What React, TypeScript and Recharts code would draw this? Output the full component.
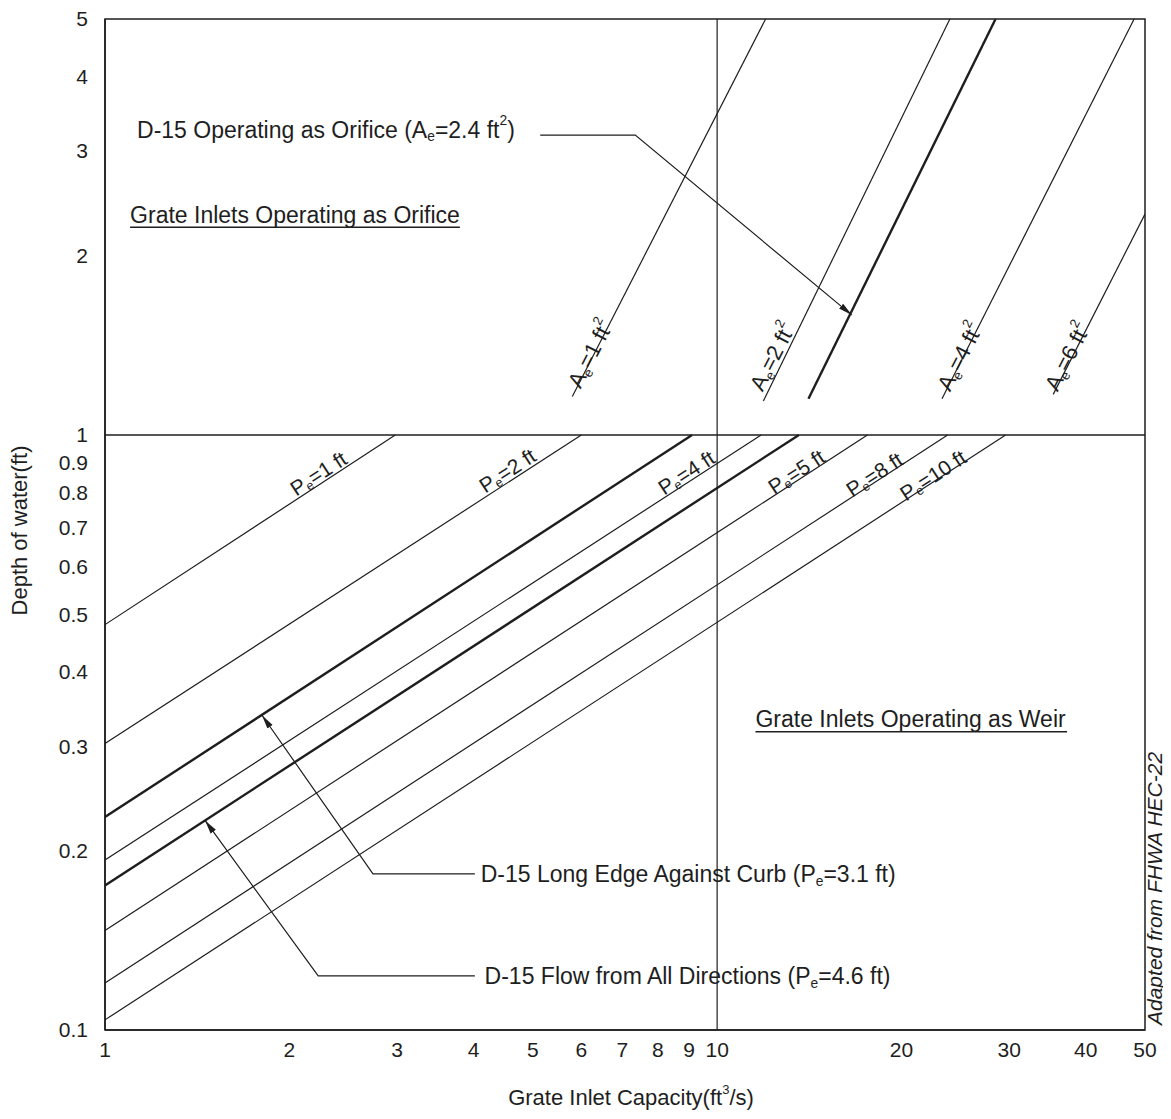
import React from 'react'
import {
  ComposedChart,
  Line,
  XAxis,
  YAxis,
  ReferenceLine,
  ReferenceArea,
  ReferenceDot,
} from 'recharts'

// axis ticks
const xTicks = [1, 2, 3, 4, 5, 6, 7, 8, 9, 10, 20, 30, 40, 50]
const yTicks = [0.1, 0.2, 0.3, 0.4, 0.5, 0.6, 0.7, 0.8, 0.9, 1, 2, 3, 4, 5]

// weir curves (lower half): depth at Q = 1 and capacity where depth reaches 1 ft
const weirPerimeter = ['1', '2', '3.1', '4', '4.6', '5', '8', '10']
const weirDepthAtQ1 = [0.48, 0.303, 0.228, 0.193, 0.175, 0.147, 0.12, 0.104]
const weirQAtDepth1 = [2.98, 6.0, 9.1, 11.8, 13.6, 17.6, 23.8, 29.6]
const weirBold = [false, false, true, false, true, false, false, false]
const weirLabelQ = [2.23, 4.54, 0, 8.9, 0, 13.46, 18.05, 22.5]
const weirLabelDepth = [0.863, 0.873, 0, 0.866, 0, 0.869, 0.86, 0.857]

// orifice curves (upper half)
const orificeArea = ['1', '2', '2.4', '4', '6']
const orificeQLow = [5.8, 11.9, 14.1, 23.3, 35.4]
const orificeDepthLow = [1.16, 1.14, 1.15, 1.15, 1.17]
const orificeQHigh = [12.0, 24.0, 28.5, 48.0, 50]
const orificeDepthHigh = [5, 5, 5, 5, 2.35]
const orificeBold = [false, false, true, false, false]
const orificeLabelQ = [6.2, 12.3, 0, 24.9, 37.3]
const orificeLabelDepth = [1.37, 1.355, 0, 1.355, 1.355]

// leader lines (last point = arrow tip)
const orificeLeaderQ = [5.14, 7.35, 16.6]
const orificeLeaderD = [3.19, 3.19, 1.59]
const curbLeaderQ = [4.02, 2.74, 1.805]
const curbLeaderD = [0.183, 0.183, 0.338]
const allDirLeaderQ = [4.02, 2.23, 1.457]
const allDirLeaderD = [0.1233, 0.1233, 0.225]

// annotation anchors (text start)
const noteQ = [1.128, 1.099, 11.55, 4.11, 4.17]
const noteDepth = [3.26, 2.34, 0.333, 0.183, 0.1233]

// underlines of the two region titles
const underlineQStart = [1.099, 11.55]
const underlineQEnd = [3.8, 37.3]
const underlineDepth = [2.234, 0.317]

const INK = '#1e1e1e'
const FONT = '"Liberation Sans", Arial, Helvetica, sans-serif'

type Seg = [string, 'n' | 'sub' | 'sup']

const noteText: Seg[][] = [
  [['D-15 Operating as Orifice (A', 'n'], ['e', 'sub'], ['=2.4 ft', 'n'], ['2', 'sup'], [')', 'n']],
  [['Grate Inlets Operating as Orifice', 'n']],
  [['Grate Inlets Operating as Weir', 'n']],
  [['D-15 Long Edge Against Curb (P', 'n'], ['e', 'sub'], ['=3.1 ft)', 'n']],
  [['D-15 Flow from All Directions (P', 'n'], ['e', 'sub'], ['=4.6 ft)', 'n']],
]

function spans(segs: Seg[], fs: number) {
  let shift = 0
  return segs.map(([t, k], i) => {
    const target = k === 'sub' ? fs * 0.3 : k === 'sup' ? -fs * 0.4 : 0
    const dy = target - shift
    shift = target
    return (
      <tspan key={i} dy={dy} fontSize={k === 'n' ? fs : fs * 0.6}>
        {t}
      </tspan>
    )
  })
}

function centerOf(props: any) {
  const vb = props.viewBox || {}
  return { cx: (vb.x ?? 0) + (vb.width ?? 0) / 2, cy: (vb.y ?? 0) + (vb.height ?? 0) / 2 }
}

const rotatedLabel = (segs: Seg[], angle: number, fs: number) => (props: any) => {
  const { cx, cy } = centerOf(props)
  return (
    <text
      x={cx}
      y={cy}
      textAnchor="middle"
      dominantBaseline="central"
      fill={INK}
      fontFamily={FONT}
      transform={`rotate(${angle} ${cx} ${cy})`}
    >
      {spans(segs, fs)}
    </text>
  )
}

const noteLabel = (segs: Seg[]) => (props: any) => {
  const { cx, cy } = centerOf(props)
  return (
    <text x={cx} y={cy} dominantBaseline="central" fill={INK} fontFamily={FONT}>
      {spans(segs, 23)}
    </text>
  )
}

const adaptedLabel = (props: any) => {
  const { cx, cy } = centerOf(props)
  const x = cx + 17
  const y = cy - 5
  return (
    <text
      x={x}
      y={y}
      fill={INK}
      fontFamily={FONT}
      fontStyle="italic"
      fontSize={21}
      transform={`rotate(-90 ${x} ${y})`}
    >
      Adapted from FHWA HEC-22
    </text>
  )
}

const pts = (qs: number[], ds: number[]) => qs.map((q, i) => ({ x: q, y: ds[i] }))

export default function App() {
  return (
    <div style={{ width: 1163, height: 1103, overflow: 'hidden', background: '#fff' }}>
      <ComposedChart
        width={1163}
        height={1103}
        margin={{ top: 11, right: 26, bottom: 0, left: 0 }}
      >
        <defs>
          <marker
            id="arrowHead"
            viewBox="0 0 14 8"
            refX="14"
            refY="4"
            markerWidth="14"
            markerHeight="8"
            markerUnits="userSpaceOnUse"
            orient="auto"
          >
            <path d="M0,0.8 L14,4 L0,7.2 z" fill={INK} />
          </marker>
        </defs>
        <XAxis
          dataKey="x"
          type="number"
          scale="log"
          domain={[1, 50]}
          ticks={xTicks}
          interval={0}
          allowDataOverflow
          height={81}
          axisLine={{ stroke: INK, strokeWidth: 1.5 }}
          tickLine={false}
          tickSize={4}
          tickMargin={8}
          tick={{ fontSize: 21, fill: INK, fontFamily: FONT }}
          label={{
            content: (props: any) => {
              const vb = props.viewBox
              const x = vb.x + vb.width / 2 + 6
              const y = vb.y + 67
              return (
                <text x={x} y={y} textAnchor="middle" dominantBaseline="central" fill={INK} fontFamily={FONT} fontSize={22}>
                  <tspan>Grate Inlet Capacity(ft</tspan>
                  <tspan dy={-8} fontSize={13}>3</tspan>
                  <tspan dy={8}>/s)</tspan>
                </text>
              )
            },
          }}
        />
        <YAxis
          type="number"
          scale="log"
          domain={[0.1, 5]}
          ticks={yTicks}
          interval={0}
          allowDataOverflow
          width={97}
          axisLine={{ stroke: INK, strokeWidth: 1.5 }}
          tickLine={false}
          tickSize={6}
          tickMargin={11}
          tick={{ fontSize: 21, fill: INK, fontFamily: FONT }}
          label={{
            content: (props: any) => {
              const vb = props.viewBox
              const x = vb.x + 11
              const y = vb.y + vb.height / 2 + 6
              return (
                <text
                  x={x}
                  y={y}
                  textAnchor="middle"
                  dominantBaseline="central"
                  fill={INK}
                  fontFamily={FONT}
                  fontSize={22}
                  transform={`rotate(-90 ${x} ${y})`}
                >
                  Depth of water(ft)
                </text>
              )
            },
          }}
        />

        <ReferenceArea x1={1} x2={50} y1={0.1} y2={5} fill="none" stroke={INK} strokeWidth={1.5} ifOverflow="visible" />
        <ReferenceLine x={10} stroke={INK} strokeWidth={1.2} ifOverflow="visible" />
        <ReferenceLine y={1} stroke={INK} strokeWidth={1.6} ifOverflow="visible" />

        {underlineQStart.map((q, i) => (
          <ReferenceLine
            key={`ul-${i}`}
            segment={[
              { x: q, y: underlineDepth[i] },
              { x: underlineQEnd[i], y: underlineDepth[i] },
            ]}
            stroke={INK}
            strokeWidth={1.5}
            ifOverflow="visible"
          />
        ))}

        {weirPerimeter.map((p, i) => (
          <Line
            key={`weir-${p}`}
            name={`weir-${p}`}
            data={[
              { x: 1, y: weirDepthAtQ1[i] },
              { x: weirQAtDepth1[i], y: 1 },
            ]}
            dataKey="y"
            type="linear"
            dot={false}
            activeDot={false}
            stroke={INK}
            strokeWidth={weirBold[i] ? 2.4 : 1.2}
            isAnimationActive={false}
          />
        ))}

        {orificeArea.map((a, i) => (
          <Line
            key={`orifice-${a}`}
            name={`orifice-${a}`}
            data={[
              { x: orificeQLow[i], y: orificeDepthLow[i] },
              { x: orificeQHigh[i], y: orificeDepthHigh[i] },
            ]}
            dataKey="y"
            type="linear"
            dot={false}
            activeDot={false}
            stroke={INK}
            strokeWidth={orificeBold[i] ? 2.4 : 1.2}
            isAnimationActive={false}
          />
        ))}

        {[
          pts(orificeLeaderQ, orificeLeaderD),
          pts(curbLeaderQ, curbLeaderD),
          pts(allDirLeaderQ, allDirLeaderD),
        ].map((d, i) => (
          <Line
            key={`leader-${i}`}
            name={`leader-${i}`}
            data={d}
            dataKey="y"
            type="linear"
            dot={false}
            activeDot={false}
            stroke={INK}
            strokeWidth={1.2}
            markerEnd="url(#arrowHead)"
            isAnimationActive={false}
          />
        ))}

        {weirPerimeter.map((p, i) =>
          weirLabelQ[i] > 0 ? (
            <ReferenceDot
              key={`wl-${p}`}
              x={weirLabelQ[i]}
              y={weirLabelDepth[i]}
              r={1}
              fill="none"
              stroke="none"
              ifOverflow="visible"
              label={rotatedLabel([['P', 'n'], ['e', 'sub'], [`=${p} ft`, 'n']], -33, 21)}
            />
          ) : null
        )}

        {orificeArea.map((a, i) =>
          orificeLabelQ[i] > 0 ? (
            <ReferenceDot
              key={`ol-${a}`}
              x={orificeLabelQ[i]}
              y={orificeLabelDepth[i]}
              r={1}
              fill="none"
              stroke="none"
              ifOverflow="visible"
              label={rotatedLabel([['A', 'n'], ['e', 'sub'], [`=${a} ft`, 'n'], ['2', 'sup']], -62.7, 22)}
            />
          ) : null
        )}

        {noteQ.map((q, i) => (
          <ReferenceDot
            key={`note-${i}`}
            x={q}
            y={noteDepth[i]}
            r={1}
            fill="none"
            stroke="none"
            ifOverflow="visible"
            label={noteLabel(noteText[i])}
          />
        ))}

        <ReferenceDot x={50} y={0.1} r={1} fill="none" stroke="none" ifOverflow="visible" label={adaptedLabel} />
      </ComposedChart>
    </div>
  )
}
